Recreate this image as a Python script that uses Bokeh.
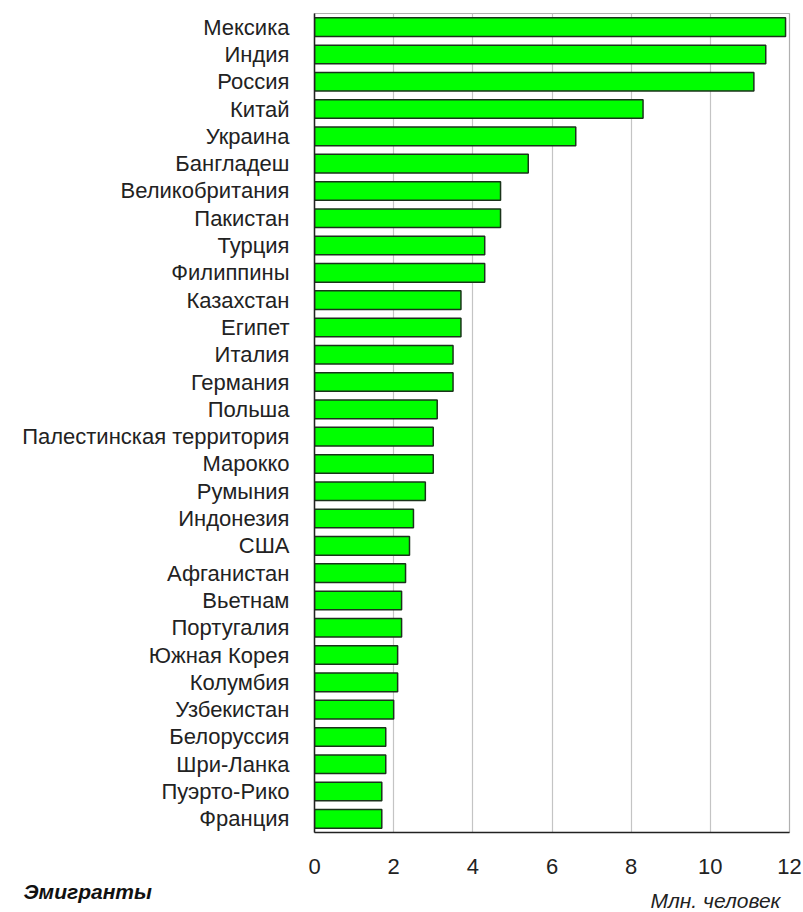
from bokeh.plotting import figure
from bokeh.models import ColumnDataSource, FixedTicker, Range1d
from bokeh.layouts import column
from bokeh.core.properties import value
from bokeh.embed import file_html
from bokeh.resources import INLINE

countries = ["Мексика", "Индия", "Россия", "Китай", "Украина", "Бангладеш",
             "Великобритания", "Пакистан", "Турция", "Филиппины", "Казахстан",
             "Египет", "Италия", "Германия", "Польша", "Палестинская территория",
             "Марокко", "Румыния", "Индонезия", "США", "Афганистан", "Вьетнам",
             "Португалия", "Южная Корея", "Колумбия", "Узбекистан", "Белоруссия",
             "Шри-Ланка", "Пуэрто-Рико", "Франция"]
emigrants = [11.9, 11.4, 11.1, 8.3, 6.6, 5.4, 4.7, 4.7, 4.3, 4.3, 3.7, 3.7,
             3.5, 3.5, 3.1, 3.0, 3.0, 2.8, 2.5, 2.4, 2.3, 2.2, 2.2, 2.1, 2.1,
             2.0, 1.8, 1.8, 1.7, 1.7]
x_ticks = [0, 2, 4, 6, 8, 10, 12]
title_left = "Эмигранты"
unit_label = "Млн. человек"

FONT = "Liberation Sans"

src = ColumnDataSource(dict(country=countries, value=emigrants))

p = figure(y_range=list(reversed(countries)), x_range=(0, 12),
           output_backend="svg", toolbar_location=None,
           frame_width=475, frame_height=819,
           min_border_left=314, min_border_right=13,
           min_border_top=13, min_border_bottom=48)
p.frame_align = False
p.y_range.range_padding = 0

p.hbar(y="country", right="value", left=0, height=0.68, source=src,
       fill_color="#00ff00", line_color="#1a331a", line_width=1.5)

p.xaxis.ticker = FixedTicker(ticks=x_ticks)
p.xaxis.major_tick_line_color = None
p.xaxis.minor_tick_line_color = None
p.xaxis.major_label_text_font = FONT
p.xaxis.major_label_text_font_size = "22px"
p.xaxis.major_label_text_color = "#222222"
p.xaxis.major_label_standoff = 20
p.xaxis.axis_line_color = "#222222"
p.xaxis.axis_line_width = 1.5

p.yaxis.major_tick_line_color = None
p.yaxis.minor_tick_line_color = None
p.yaxis.major_label_text_font = FONT
p.yaxis.major_label_text_font_size = "22px"
p.yaxis.major_label_text_color = "#222222"
p.yaxis.major_label_standoff = 19
p.yaxis.axis_line_color = "#222222"
p.yaxis.axis_line_width = 1.5

p.ygrid.grid_line_color = None
p.xgrid.grid_line_color = "#c4c4c4"
p.xgrid.grid_line_width = 1.2
p.outline_line_color = "#b0b0b0"
p.outline_line_width = 1.2

# caption strip below the chart (pixel-like coordinates, y pointing down)
p2 = figure(frame_width=802, frame_height=32,
            x_range=Range1d(0, 802), y_range=Range1d(32, 0),
            output_backend="svg", toolbar_location=None,
            x_axis_type=None, y_axis_type=None,
            min_border_left=0, min_border_right=0,
            min_border_top=0, min_border_bottom=0)
p2.frame_align = False
p2.outline_line_color = None
p2.xgrid.grid_line_color = None
p2.ygrid.grid_line_color = None
p2.text(x=[23], y=[11], text=[title_left], text_font=value(FONT),
        text_font_size="21px", text_font_style="bold italic",
        text_color="#111111", text_baseline="middle", text_align="left")
p2.text(x=[780], y=[20], text=[unit_label], text_font=value(FONT),
        text_font_size="21px", text_font_style="italic",
        text_color="#222222", text_baseline="middle", text_align="right")

layout = column(p, p2, spacing=0)
open("out.html", "w").write(file_html(layout, INLINE))
